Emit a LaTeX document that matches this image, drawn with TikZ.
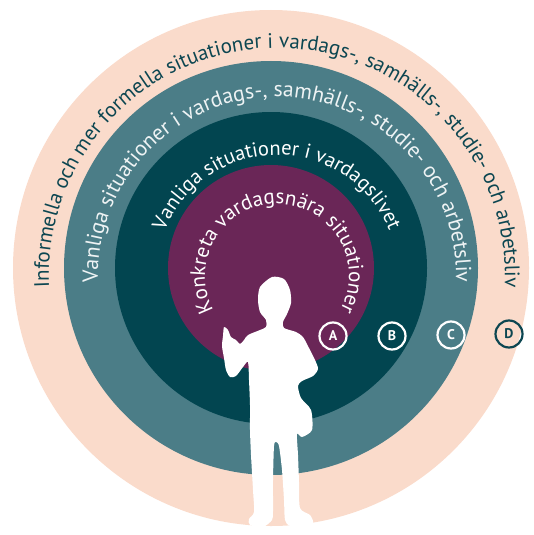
\documentclass[tikz,border=0pt]{standalone}
\usepackage{fontspec}
\setmainfont{PT Sans}
\usetikzlibrary{decorations.text}

\definecolor{peach}{HTML}{FADBCB}
\definecolor{teal}{HTML}{4B7D87}
\definecolor{darkteal}{HTML}{024550}
\definecolor{plum}{HTML}{6A2657}
\definecolor{inktext}{HTML}{0C4651}
\definecolor{paletext}{HTML}{EEF3F4}

\newcommand{\ringfont}[1]{\fontsize{#1}{24}\selectfont}

\begin{document}
\begin{tikzpicture}[x=1pt, y=1pt,
    disk/.style={circle, inner sep=0pt, outer sep=0pt},
    ringtext/.style={decorate, decoration={text along path, text align=center, text={#1}}},
    badge/.style={draw, circle, line width=2.2pt, minimum size=27pt, inner sep=0pt,
      font=\bfseries\fontsize{14}{14}\selectfont}]
    \useasboundingbox (0, 0) rectangle (534, -535);
    % rings
    \node [disk, fill=peach, minimum size=516pt] (ringD) at (271, -268) {};
    \node [disk, fill=teal, minimum size=414pt] (ringC) at (271, -268) {};
    \node [disk, fill=darkteal, minimum size=312pt] (ringB) at (271, -268) {};
    \node [disk, fill=plum, minimum size=206pt] (ringA) at (271, -268) {};
    \coordinate (tc) at (277, -276);
    % ring texts
    \path [ringtext={|\ringfont{21}|Informella och mer formella situationer i vardags-, samhälls-, studie- och arbetsliv}, decoration={text color=inktext}]
      ([shift={(tc)}]200:228) arc [start angle=200, end angle=-20, radius=228];
    \path [ringtext={|\ringfont{21.8}|Vanliga situationer i vardags-, samhälls-, studie- och arbetsliv}, decoration={text color=paletext}]
      ([shift={(tc)}]200:179) arc [start angle=200, end angle=-20, radius=179];
    \path [ringtext={|\ringfont{20.5}|Vanliga situationer i vardagslivet}, decoration={text color=white}]
      ([shift={(tc)}]200:121) arc [start angle=200, end angle=-20, radius=121];
    \path [ringtext={|\ringfont{21}|Konkreta vardagsnära situationer}, decoration={text color=white}]
      ([shift={(tc)}]250:72) arc [start angle=250, end angle=-70, radius=72];
    % badges
    \node [badge, white] (badgeA) at (333, -336) {A};
    \node [badge, white] (badgeB) at (392, -336) {B};
    \node [badge, white] (badgeC) at (451, -335) {C};
    \node [badge, inktext] (badgeD) at (509, -334) {D};
    % person
    \fill [white] plot [smooth cycle, tension=0.45] coordinates {
      (272, -277) (284, -279) (290, -290) (291, -303) (287, -314) (283, -322)
      (284, -328) (296, -332) (303, -337) (309, -348) (315, -360) (318, -369)
      (313, -376) (302, -381) (298, -386) (301, -398) (311, -410) (312, -430)
      (302, -437) (297, -434) (298, -455) (299, -482) (300, -508) (310, -515)
      (313, -523) (303, -527) (290, -526) (285, -520) (284, -500) (282, -470)
      (279, -446) (276, -442) (274, -446) (273, -480) (273, -511) (272, -520)
      (263, -527) (250, -525) (249, -519) (254, -512) (253, -490) (251, -455)
      (250, -430) (250, -405) (249, -380) (248, -362) (243, -367) (236, -376)
      (230, -377) (226, -370) (224, -358) (222, -346) (223, -336) (224, -327)
      (228, -330) (231, -337) (236, -340) (240, -344) (244, -340) (248, -335)
      (260, -330) (266, -327) (266, -320) (260, -312) (258, -300) (260, -287)};
\end{tikzpicture}
\end{document}
